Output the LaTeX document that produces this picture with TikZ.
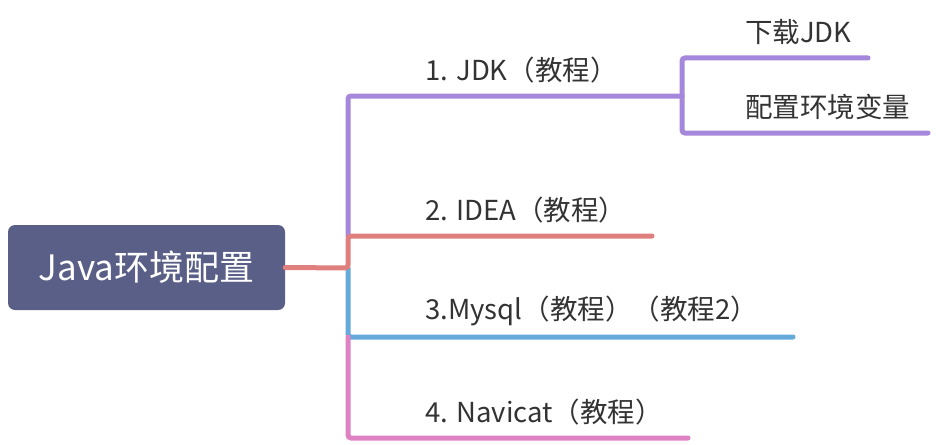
\documentclass[tikz,border=0pt]{standalone}
\usepackage{fontspec}
\setmainfont{Noto Sans CJK SC}
\definecolor{rootfill}{HTML}{5A5F87}
\definecolor{cpurple}{HTML}{A587DC}
\definecolor{cred}{HTML}{DF7F7E}
\definecolor{cblue}{HTML}{66AADC}
\definecolor{cpink}{HTML}{DE82C4}
\definecolor{ctext}{HTML}{333333}
\tikzset{
  rootbox/.style={fill=rootfill, rounded corners=7pt, text=white, font=\fontsize{35}{40}\selectfont, minimum width=277pt, minimum height=85pt, inner sep=0pt},
  lbl/.style={anchor=west, text=ctext, font=\fontsize{27.5}{32}\selectfont, inner sep=0pt},
  branch/.style={line width=5pt, line cap=round, rounded corners=3pt},
}
\begin{document}
\begin{tikzpicture}[x=1pt,y=-1pt]
\useasboundingbox (0,0) rectangle (936,444);
\node[rootbox] (root) at (146.5,267.5) {Java环境配置};
\coordinate (hub) at (348,268);
\coordinate (jdkend) at (682,96);
\coordinate (ideaend) at (652,236);
\coordinate (mysqlend) at (793,337);
\coordinate (navend) at (688,438);
\coordinate (dlend) at (868,58);
\coordinate (envend) at (928,133);
\node[lbl] (jdk) at (425,70) {1. JDK（教程）};
\node[lbl] (idea) at (425,210) {2. IDEA（教程）};
\node[lbl] (mysql) at (425,311) {3.Mysql（教程）（教程2）};
\node[lbl] (nav) at (425,412) {4. Navicat（教程）};
\node[lbl] (dl) at (745,32) {下载JDK};
\node[lbl] (env) at (745,107) {配置环境变量};
\draw[branch, cpurple] (348,236) -- (348,96) -- (jdkend);
\draw[branch, cpurple] (jdkend) -- (682,58) -- (dlend);
\draw[branch, cpurple] (jdkend) -- (682,133) -- (envend);
\draw[branch, cblue] (hub) -- (348,337) -- (mysqlend);
\draw[branch, cpink] (348,337) -- (348,438) -- (navend);
\draw[branch, cred] (root.east) -- (hub) -- (348,236) -- (ideaend);
\end{tikzpicture}
\end{document}
